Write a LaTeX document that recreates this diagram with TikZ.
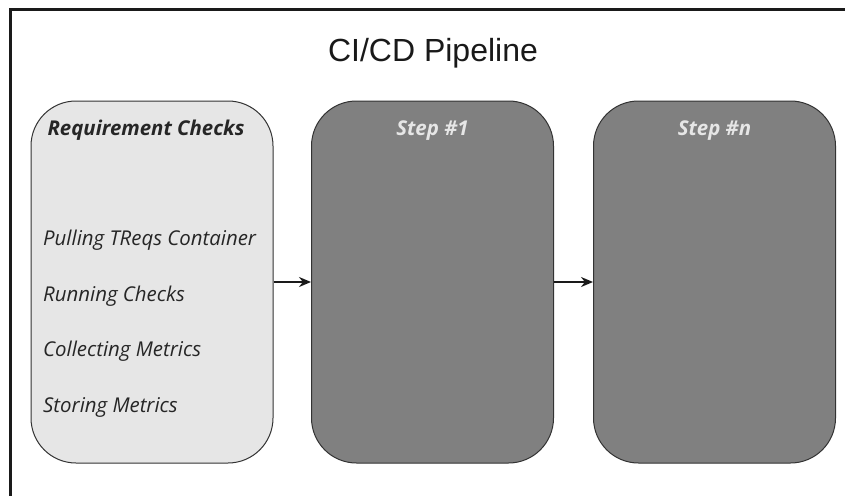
\documentclass[tikz,border=0pt]{standalone}
\usepackage{fontspec}
\setmainfont{Open Sans}
\newfontfamily\titlefont{Liberation Sans}
\usetikzlibrary{arrows.meta}
\definecolor{lightbox}{HTML}{E6E6E6}
\definecolor{darkbox}{HTML}{808080}
\definecolor{edgecol}{HTML}{333333}
\definecolor{framecol}{HTML}{1A1A1A}
\begin{document}
\begin{tikzpicture}[x=1pt,y=-1pt,
  stage/.style={draw=edgecol, line width=1pt, rounded corners=45pt, minimum width=242pt, minimum height=362pt, inner sep=0pt},
  lightstage/.style={stage, fill=lightbox},
  darkstage/.style={stage, fill=darkbox},
  headtxt/.style={font=\fontsize{20.4}{24}\selectfont\bfseries\itshape, anchor=base, inner sep=0pt},
  itemtxt/.style={font=\fontsize{20.4}{24}\selectfont\itshape, anchor=base west, inner sep=0pt, text=black!85},
  flow/.style={-{Stealth[length=12pt,width=10pt]}, line width=2pt, draw=framecol}
]
\useasboundingbox (0,0) rectangle (845,495);
\begin{scope}
\clip (0,0) rectangle (845,495);
\draw[framecol, line width=3pt] (10.5,9.5) rectangle (880,530);
\end{scope}
\node[font=\titlefont\fontsize{32}{38}\selectfont, anchor=base, text=black!90] (title) at (433,61) {CI/CD Pipeline};
\node[lightstage] (req) at (152,282) {};
\node[darkstage] (s1) at (432.5,282) {};
\node[darkstage] (sn) at (714.5,282) {};
\node[headtxt, text=black!85] (reqhead) at (146,135) {Requirement Checks};
\node[headtxt, text=lightbox] (s1head) at (432.5,135) {Step \#1};
\node[headtxt, text=lightbox] (snhead) at (714.5,135) {Step \#n};
\node[itemtxt] (i1) at (43,245) {Pulling TReqs Container};
\node[itemtxt] (i2) at (43,301) {Running Checks};
\node[itemtxt] (i3) at (43,356) {Collecting Metrics};
\node[itemtxt] (i4) at (43,412) {Storing Metrics};
\draw[flow] (req.east) -- (s1.west);
\draw[flow] (s1.east) -- (sn.west);
\end{tikzpicture}
\end{document}
